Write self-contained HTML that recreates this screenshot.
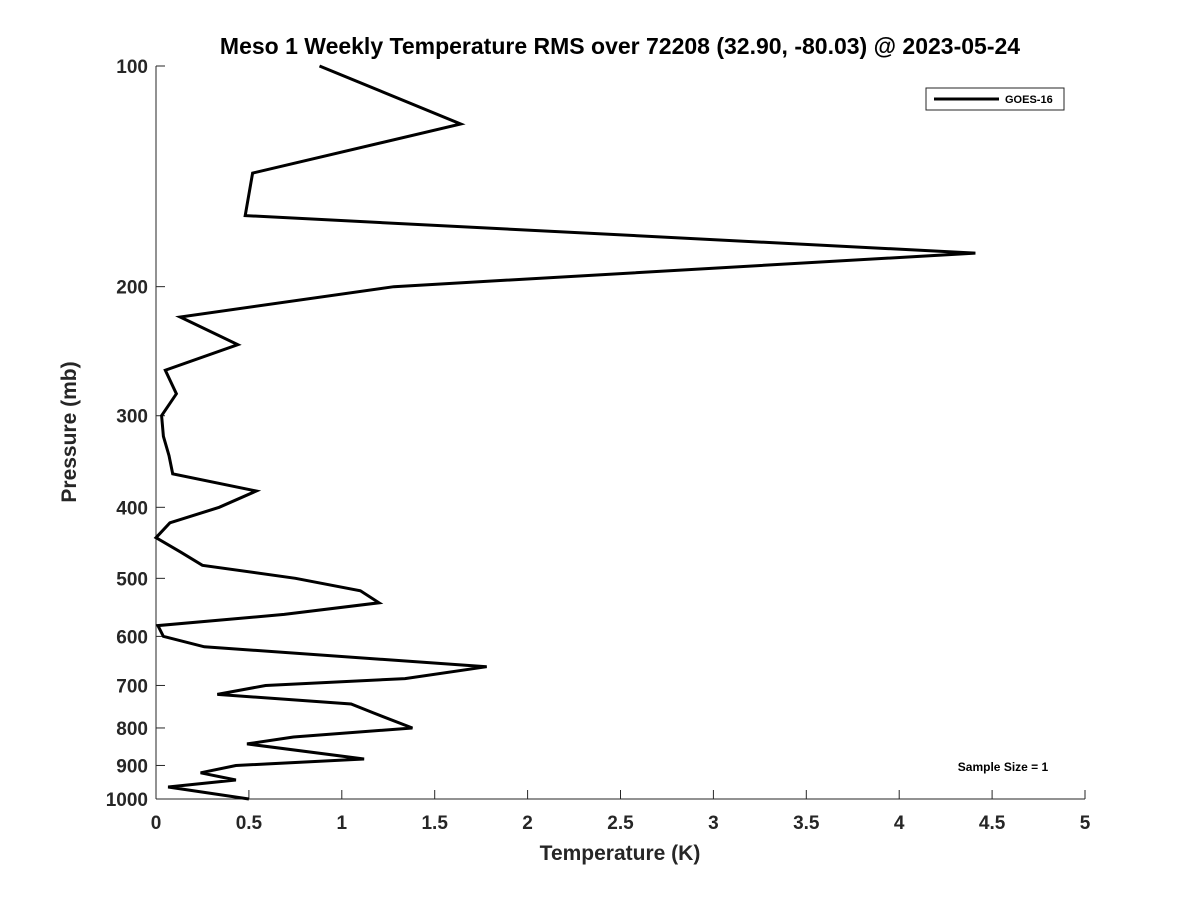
<!DOCTYPE html>
<html><head><meta charset="utf-8"><style>
body{margin:0;background:#fff;}
svg text{font-family:"Liberation Sans","DejaVu Sans",sans-serif;font-weight:bold;fill:#262626;}
</style></head><body>
<svg id="chart" width="1200" height="900" xmlns="http://www.w3.org/2000/svg">
<rect width="1200" height="900" fill="#fff"/>
<text x="620" y="54" text-anchor="middle" font-size="23" style="fill:#000">Meso 1 Weekly Temperature RMS over 72208 (32.90, -80.03) @ 2023-05-24</text>
<g id="axes"></g>
<text x="620" y="860" text-anchor="middle" font-size="21">Temperature (K)</text>
<text transform="translate(76,432) rotate(-90)" text-anchor="middle" font-size="21">Pressure (mb)</text>
<g>
<rect x="926" y="88" width="138" height="22" fill="#fff" stroke="#262626" stroke-width="1"/>
<line x1="934" y1="99" x2="999" y2="99" stroke="#000" stroke-width="3"/>
<text x="1005" y="103" font-size="11" style="fill:#000">GOES-16</text>
</g>
<text x="1003" y="771" text-anchor="middle" font-size="12" style="fill:#000">Sample Size = 1</text>
</svg>
<script>
const temps=[0.88,1.64,0.52,0.48,4.41,1.28,0.13,0.44,0.05,0.11,0.03,0.04,0.07,0.09,0.54,0.34,0.075,0,0.13,0.25,0.75,1.1,1.2,0.69,0.01,0.04,0.26,1.78,1.34,0.59,0.33,1.05,1.17,1.38,0.74,0.49,1.12,0.43,0.24,0.43,0.065,0.5];
const pressures=[100,120,140,160,180,200,220,240,260,280,300,320,340,360,380,400,420,440,460,480,500,520,540,560,580,600,620,660,685,700,720,742,763,800,823,841,882,900,921,942,963,1000];
const xTicks=[0,0.5,1,1.5,2,2.5,3,3.5,4,4.5,5];
const yTicks=[100,200,300,400,500,600,700,800,900,1000];
const X0=156,X1=1085,Y0=66,Y1=799;
function xs(v){return X0+(v-0)/(5-0)*(X1-X0);}
function ys(p){return Y0+(Math.log10(p)-2)/(1)*(Y1-Y0);}
const NS="http://www.w3.org/2000/svg";
const g=document.getElementById('axes');
function mk(t,a){const e=document.createElementNS(NS,t);for(const k in a)e.setAttribute(k,a[k]);g.appendChild(e);return e;}
let e=mk('line',{x1:X0,y1:Y0,x2:X0,y2:Y1,stroke:'#262626','stroke-width':1});


e=mk('line',{x1:X0,y1:Y1,x2:X1,y2:Y1,stroke:'#262626','stroke-width':1});


xTicks.forEach(v=>{
 const x=xs(v);
 let t=mk('line',{x1:x,y1:Y1,x2:x,y2:Y1-9,stroke:'#262626'});
 
 
 let l=mk('text',{x:x,y:Y1+30,'text-anchor':'middle','font-size':19});
 l.textContent=String(v);
 
 
});
yTicks.forEach(v=>{
 const y=ys(v);
 let t=mk('line',{x1:X0,y1:y,x2:X0+9,y2:y,stroke:'#262626'});
 
 
 let l=mk('text',{x:X0-8,y:y+7,'text-anchor':'end','font-size':19});
 l.textContent=String(v);
 
 
});
const pts=temps.map((t,i)=>xs(t).toFixed(1)+','+ys(pressures[i]).toFixed(1)).join(' ');
const line=mk('polyline',{points:pts,fill:'none',stroke:'#000','stroke-width':3,'stroke-linejoin':'miter'});


</script>
</body></html>
